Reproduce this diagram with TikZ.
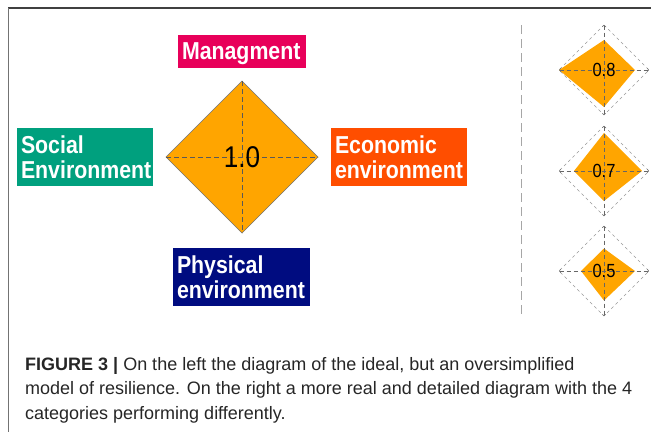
\documentclass[tikz,border=0pt]{standalone}
\usepackage{fontspec}
\setmainfont{Liberation Sans}
\newfontfamily\narrowfont[FakeStretch=0.87]{Liberation Sans}

\definecolor{mgmtred}{RGB}{232,0,90}
\definecolor{socialgreen}{RGB}{0,160,126}
\definecolor{econorange}{RGB}{255,78,0}
\definecolor{physblue}{RGB}{0,12,128}
\definecolor{idealorange}{RGB}{255,165,0}

\begin{document}
\begin{tikzpicture}[x=1pt, y=-1pt,
    catbox/.style={rectangle, inner xsep=4pt, inner ysep=0pt, text=white, align=left,
        font=\narrowfont\bfseries\fontsize{24.5}{25}\selectfont},
    ideal/.style={fill=idealorange, draw=black!55, line width=0.4pt},
    real/.style={fill=idealorange},
    idealaxis/.style={draw=black!65, line width=0.5pt, dash pattern=on 5pt off 3pt},
    realaxis/.style={draw=black!60, line width=0.5pt, dash pattern=on 4pt off 3pt, to-to},
    refline/.style={draw=black!40, line width=0.5pt, dash pattern=on 3pt off 3pt},
    separator/.style={draw=black!35, line width=0.8pt, dash pattern=on 9pt off 5pt},
    caption/.style={anchor=base west, inner sep=0pt, text=black!85, font=\fontsize{18}{18}\selectfont}]

\useasboundingbox (0,0) rectangle (651,432);

\draw[black!75, line width=1.1pt] (8,8) -- (651,8);
\draw[black!55, line width=0.9pt] (8,8) -- (8,432);

\filldraw[ideal] (242,81) -- (318,157) -- (242,233) -- (166,157) -- cycle;
\draw[idealaxis] (166,157) -- (318,157);
\draw[idealaxis] (242,81) -- (242,233);
\node (ideal) at (242,157) [font=\narrowfont\fontsize{30}{30}\selectfont] {1.0};

\node (mgmt) at (242,51.5) [catbox, fill=mgmtred, text width=120pt, minimum height=33pt, text depth=0pt] {Managment};
\node (social) at (85,157) [catbox, fill=socialgreen, text width=128pt, minimum height=58pt] {Social\\Environment};
\node (econ) at (399,157) [catbox, fill=econorange, text width=128pt, minimum height=58pt] {Economic\\environment};
\node (phys) at (241.5,277) [catbox, fill=physblue, text width=129pt, minimum height=58pt] {Physical\\environment};

\draw[separator] (521.5,25) -- (521.5,314);

\fill[real] (604,40) -- (635,70) -- (604,107) -- (559,70) -- cycle;
\draw[refline] (604,25) -- (649,70) -- (604,115) -- (559,70) -- cycle;
\draw[realaxis] (559,70) -- (649,70);
\draw[realaxis] (604,25) -- (604,115);
\node (real1) at (604,70) [font=\narrowfont\fontsize{19}{19}\selectfont] {0.8};

\fill[real] (604,133) -- (642,171) -- (604,201) -- (574,171) -- cycle;
\draw[refline] (604,126) -- (649,171) -- (604,216) -- (559,171) -- cycle;
\draw[realaxis] (559,171) -- (649,171);
\draw[realaxis] (604,126) -- (604,216);
\node (real2) at (604,171) [font=\narrowfont\fontsize{19}{19}\selectfont] {0.7};

\fill[real] (604,248.5) -- (635,271) -- (604,300.5) -- (581,271) -- cycle;
\draw[refline] (604,226) -- (649,271) -- (604,316) -- (559,271) -- cycle;
\draw[realaxis] (559,271) -- (649,271);
\draw[realaxis] (604,226) -- (604,316);
\node (real3) at (604,271) [font=\narrowfont\fontsize{19}{19}\selectfont] {0.5};

\node (cap1) at (25,370) [caption] {\textbf{FIGURE 3 |} On the left the diagram of the ideal, but an oversimplified};
\node (cap2) at (25,394.5) [caption] {model of resilience. On the right a more real and detailed diagram with the 4};
\node (cap3) at (25,419) [caption] {categories performing differently.};

\end{tikzpicture}
\end{document}
